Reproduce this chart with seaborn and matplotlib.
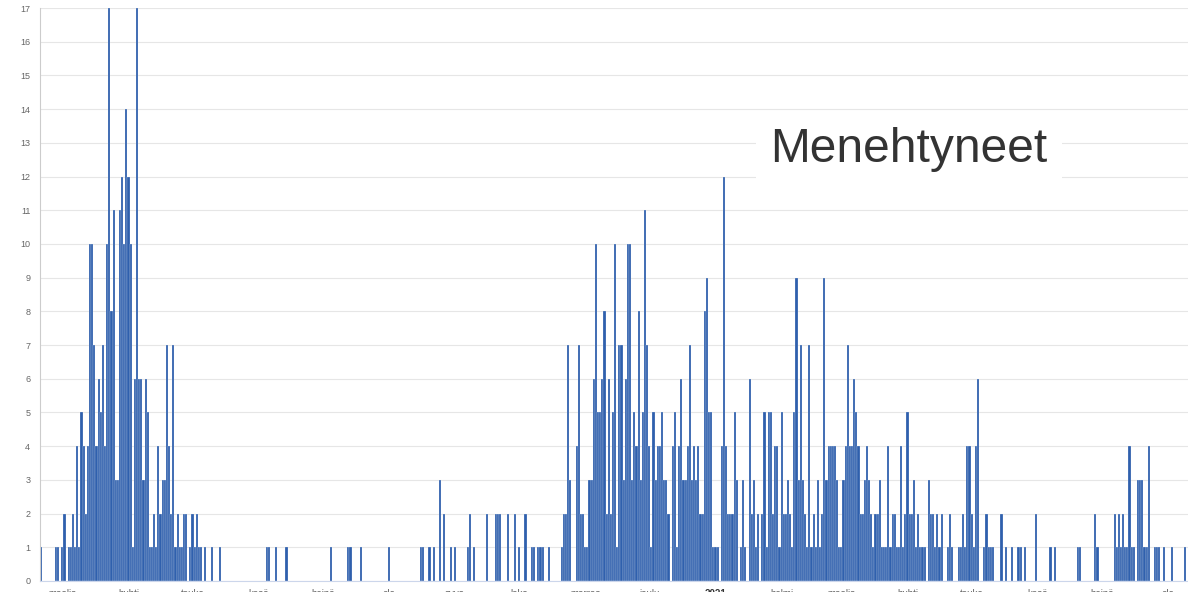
import pandas as pd
import matplotlib
matplotlib.use("Agg")
import matplotlib.pyplot as plt
import matplotlib.dates as mdates
import seaborn as sns

# daily deaths, one value per day starting from start_date
start_date = "2020-03-06"

deaths_spring_2020 = [
    1, 0, 0, 0, 0, 0, 0, 1, 1, 0, 1, 2, 0, 1, 1, 2, 1, 4, 1, 5,
    4, 2, 4, 10, 10, 7, 4, 6, 5, 7, 4, 10, 17, 8, 11, 3, 3, 11, 12, 10,
    14, 12, 10, 1, 6, 17, 6, 6, 3, 6, 5, 1, 1, 2, 1, 4, 2, 3, 3, 7,
    4, 2, 7, 1, 2, 1, 1, 2, 2, 0, 1, 2, 1, 2, 1, 1, 0, 1, 0, 0,
    1, 0, 0, 0, 1,
]
deaths_summer_2020 = [
    0, 0, 0, 0, 0, 0, 0, 0, 0, 0, 0, 0, 0, 0, 0, 0, 0, 0, 0, 0,
    0, 1, 1, 0, 0, 1, 0, 0, 0, 0, 1, 0, 0, 0, 0, 0, 0, 0, 0, 0,
    0, 0, 0, 0, 0, 0, 0, 0, 0, 0, 0, 1, 0, 0, 0, 0, 0, 0, 0, 1,
    1, 0, 0, 0, 0, 1, 0, 0, 0, 0, 0, 0, 0, 0, 0, 0, 0, 0, 1, 0,
    0, 0, 0, 0, 0, 0, 0, 0, 0, 0, 0, 0, 0, 1, 1, 0, 0, 1, 0, 1,
    0, 0, 3, 0, 2, 0, 0, 1, 0, 1, 0, 0, 0, 0, 0, 1, 2, 0, 1, 0,
    0, 0, 0, 0, 2, 0, 0, 0, 2, 2, 2, 0, 0, 0, 2, 0, 0, 2, 0, 1,
    0, 0, 2, 0, 0, 1, 1, 0, 1, 1, 1, 0, 0, 1, 0, 0, 0, 0, 0,
]
deaths_second_wave = [
    1, 2, 2, 7, 3, 0, 0, 4, 7, 2, 2, 1, 1, 3, 3, 6, 10, 5, 5, 6,
    8, 2, 6, 2, 5, 10, 1, 7, 7, 3, 6, 10, 10, 3, 5, 4, 8, 3, 5, 11,
    7, 4, 1, 5, 3, 4, 4, 5, 3, 3, 2, 0, 4, 5, 1, 4, 6, 3, 3, 4,
    7, 3, 4, 3, 4, 2, 2, 8, 9, 5, 5, 1, 1, 1, 0, 4, 12, 4, 2, 2,
    2, 5, 3, 0, 1, 3, 1, 0, 6, 2, 3, 1, 2, 0, 2, 5, 1, 5, 5, 2,
    4, 4, 1, 5, 2, 2, 3, 2, 1, 5, 9, 3, 7, 3, 2, 1, 7, 1, 2, 1,
    3, 1, 2, 9, 3, 4, 4, 4, 4, 3, 1, 1, 3, 4, 7, 4, 4, 6, 5, 4,
    2, 2, 3, 4,
]
deaths_2021 = [
    3, 2, 1, 2, 2, 3, 1, 1, 1, 4, 1, 2, 2, 1, 1, 4, 1, 2, 5, 2,
    2, 3, 1, 2, 1, 1, 1, 0, 3, 2, 2, 1, 2, 1, 2, 0, 0, 1, 2, 1,
    0, 0, 1, 1, 2, 1, 4, 4, 2, 1, 4, 6, 0, 0, 1, 2, 1, 1, 1, 0,
    0, 0, 2, 0, 1, 0, 0, 1, 0, 0, 1, 1, 0, 1, 0, 0, 0, 0, 2, 0,
    0, 0, 0, 0, 0, 1, 0, 1, 0, 0, 0, 0, 0, 0, 0, 0, 0, 0, 1, 1,
    0, 0, 0, 0, 0, 0, 2, 1, 0, 0, 0, 0, 0, 0, 0, 2, 1, 2, 1, 2,
    1, 1, 4, 1, 1, 0, 3, 3, 3, 1, 1, 4, 0, 0, 1, 1, 1, 0, 1, 0,
    0, 0, 1, 0, 0, 0, 0, 0, 1, 0,
]

# x axis: month labels from March 2020 to August 2021
month_labels = ["maalis", "huhti", "touko", "kesä", "heinä", "elo", "syys",
                "loka", "marras", "joulu", "2021", "helmi", "maalis", "huhti",
                "touko", "kesä", "heinä", "elo"]
title = "Menehtyneet"

deaths = deaths_spring_2020 + deaths_summer_2020 + deaths_second_wave + deaths_2021
dates = pd.date_range(start_date, periods=len(deaths), freq="D")
df = pd.DataFrame({"date": mdates.date2num(dates), "deaths": deaths})

sns.set_style("white")
plt.rcParams["font.family"] = ["Liberation Sans", "DejaVu Sans"]

bar_color = "#2f60ad"
fig = plt.figure(figsize=(11.88, 5.92), dpi=100)
ax = fig.add_axes([40 / 1188, 11 / 592, 1148 / 1188, 573 / 592])

sns.barplot(data=df, x="date", y="deaths", native_scale=True, width=1,
            color=bar_color, saturation=1, edgecolor="white", linewidth=0.15,
            errorbar=None, ax=ax)

x0 = df["date"].iloc[0]
ax.set_xlim(x0 - 0.47, x0 + 537.4)
ax.set_ylim(0, 17)
ax.set_xlabel("")
ax.set_ylabel("")

# y axis
ax.set_yticks(range(0, 18))
ax.tick_params(axis="y", labelsize=6.5, labelcolor="#666666", color="#cccccc",
               length=4, width=0.8, pad=3)
ax.yaxis.grid(True, color="#e6e6e6", linewidth=0.8)
ax.xaxis.grid(False)
ax.set_axisbelow(True)

# x axis: ticks at month starts, labels at mid month
month_starts = pd.date_range("2020-04-01", "2021-08-01", freq="MS")
mid_months = pd.date_range("2020-03-01", "2021-08-01", freq="MS") + pd.Timedelta(days=15)
ax.set_xticks(mdates.date2num(month_starts))
ax.set_xticklabels([])
ax.set_xticks(mdates.date2num(mid_months), minor=True)
ax.set_xticklabels(month_labels, minor=True)
ax.tick_params(axis="x", which="major", length=5, color="#ccd6eb", width=0.8)
ax.tick_params(axis="x", which="minor", length=0, pad=6, labelsize=7,
               labelcolor="#666666")
for lab in ax.get_xticklabels(minor=True):
    if lab.get_text() == "2021":
        lab.set_color("#333333")
        lab.set_fontweight("bold")

for side in ["top", "right"]:
    ax.spines[side].set_visible(False)
ax.spines["left"].set_color("#cccccc")
ax.spines["left"].set_linewidth(0.8)
ax.spines["bottom"].set_color("#ccd6eb")
ax.spines["bottom"].set_linewidth(0.8)

fig.text(0.765, 0.747, title, fontsize=34.5, color="#333333",
         ha="center", va="center",
         bbox=dict(boxstyle="square,pad=0.3", fc="white", ec="none"))

fig.savefig("out.png", dpi=100)
